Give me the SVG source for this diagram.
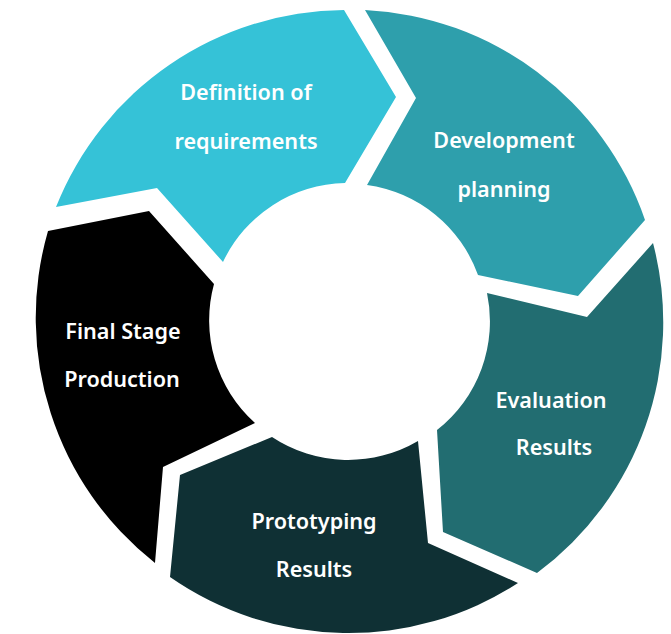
<svg xmlns="http://www.w3.org/2000/svg" width="671" height="634" viewBox="0 0 671 634">
  <style>
    .lbl { fill: #ffffff; font-family: "Noto Sans", "Lato", "Liberation Sans", sans-serif; font-weight: 600; font-size: 21.6px; text-anchor: middle; }
  </style>
  <rect width="671" height="634" fill="#ffffff"/>
  <g id="node-definition">
    <path d="M56,207 A312,312 0 0 1 344,10 L396,97 L345,183 A138,138 0 0 0 223,262 L157,188 Z" fill="#35C2D7"/>
    <text class="lbl" x="246" y="100">Definition of</text>
    <text class="lbl" x="246" y="149">requirements</text>
  </g>
  <g id="node-development">
    <path d="M365,10 A312,312 0 0 1 645,220 L578,296 L478,275 A138,138 0 0 0 367,185 L416,98 Z" fill="#2E9FAC"/>
    <text class="lbl" x="504" y="148">Development</text>
    <text class="lbl" x="504" y="197">planning</text>
  </g>
  <g id="node-evaluation">
    <path d="M653,243 A312,312 0 0 1 537,573 L443,532 L437,430 A138,138 0 0 0 487,293 L587,317 Z" fill="#226D71"/>
    <text class="lbl" x="551" y="408">Evaluation</text>
    <text class="lbl" x="554" y="455">Results</text>
  </g>
  <g id="node-prototyping">
    <path d="M518,583 A312,312 0 0 1 170,577 L180,475 L272,437 A138,138 0 0 0 418,441 L428,543 Z" fill="#0F3034"/>
    <text class="lbl" x="314" y="529">Prototyping</text>
    <text class="lbl" x="314" y="577">Results</text>
  </g>
  <g id="node-final">
    <path d="M155,563 A312,312 0 0 1 48,231 L149,211 L214,284 A138,138 0 0 0 255,423 L163,467 Z" fill="#000000"/>
    <text class="lbl" x="123" y="339">Final Stage</text>
    <text class="lbl" x="122" y="387">Production</text>
  </g>
  <g id="connectors"></g>
</svg>
